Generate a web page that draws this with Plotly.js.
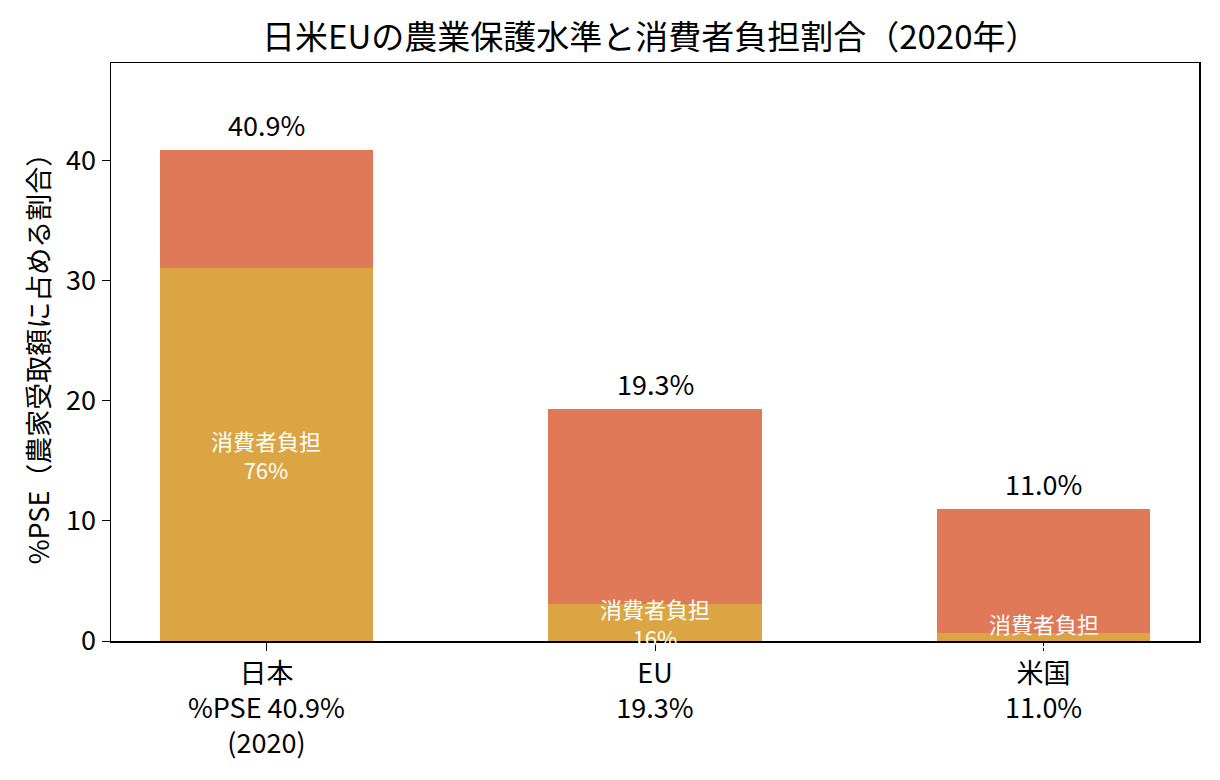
<!DOCTYPE html>
<html>
<head>
<meta charset="utf-8">
<script src="https://cdn.plot.ly/plotly-3.0.1.min.js"></script>
<style>
  body { margin: 0; background: #fff; }
  #chart { width: 1220px; height: 780px; }
</style>
</head>
<body>
<div id="chart"></div>
<script>
// data
var regions = ['日本', 'EU', '米国'];
var tickLabels = ['日本<br>%PSE 40.9%<br>(2020)', 'EU<br>19.3%', '米国<br>11.0%'];
var psePercent = [40.9, 19.3, 11.0];      // %PSE total
var consumerShare = [76, 16, 6];           // share of PSE borne by consumers (%)

var FONT = '"Noto Sans CJK JP", "Noto Sans", sans-serif';

var consumer = [];
var taxpayer = [];
for (var i = 0; i < regions.length; i++) {
  var c = psePercent[i] * consumerShare[i] / 100;
  consumer.push(c);
  taxpayer.push(psePercent[i] - c);
}

var traces = [
  {
    x: regions,
    y: consumer,
    type: 'bar',
    name: '消費者負担',
    marker: { color: '#DAA542' },
    width: 0.55,
    hoverinfo: 'skip'
  },
  {
    x: regions,
    y: taxpayer,
    type: 'bar',
    name: '納税者負担',
    marker: { color: '#E07957' },
    width: 0.55,
    hoverinfo: 'skip'
  }
];

var annotations = [];
for (var i = 0; i < regions.length; i++) {
  // total label above each bar
  annotations.push({
    x: regions[i],
    y: psePercent[i],
    xref: 'x', yref: 'y',
    text: psePercent[i].toFixed(1) + '%',
    showarrow: false,
    yanchor: 'bottom',
    yshift: 4,
    font: { family: FONT, size: 27, color: '#000' }
  });
  // consumer share label in the middle of the lower segment
  annotations.push({
    x: regions[i],
    y: consumer[i] / 2,
    xref: 'x', yref: 'y',
    text: '消費者負担<br>' + consumerShare[i] + '%',
    showarrow: false,
    yanchor: 'middle',
    font: { family: FONT, size: 22, color: '#fff' }
  });
}

var layout = {
  width: 1220,
  height: 780,
  barmode: 'stack',
  showlegend: false,
  paper_bgcolor: '#fff',
  plot_bgcolor: '#fff',
  margin: { l: 111, r: 21, t: 63, b: 139 },
  font: { family: FONT, size: 27, color: '#000' },
  title: {
    text: '日米EUの農業保護水準と消費者負担割合（2020年）',
    font: { family: FONT, size: 33, color: '#000' },
    x: 0.533, xanchor: 'center',
    xref: 'container',
    y: 0.952, yref: 'container', yanchor: 'middle'
  },
  xaxis: {
    type: 'category',
    range: [-0.4, 2.4],
    tickvals: regions,
    ticktext: tickLabels,
    ticks: 'outside',
    ticklen: 8,
    tickcolor: '#000',
    showline: true,
    linecolor: '#000',
    linewidth: 1.5,
    mirror: true,
    showgrid: false,
    zeroline: false,
    tickfont: { family: FONT, size: 27, color: '#000' }
  },
  yaxis: {
    range: [0, 48.15],
    tickvals: [0, 10, 20, 30, 40],
    ticks: 'outside',
    ticklen: 8,
    tickcolor: '#000',
    showline: true,
    linecolor: '#000',
    linewidth: 1.5,
    mirror: true,
    showgrid: false,
    zeroline: false,
    tickfont: { family: FONT, size: 27, color: '#000' },
    title: {
      text: '%PSE（農家受取額に占める割合）',
      font: { family: FONT, size: 27, color: '#000' },
      standoff: 8
    }
  },
  annotations: annotations
};

Plotly.newPlot('chart', traces, layout, { displayModeBar: false, staticPlot: true });
</script>
</body>
</html>
